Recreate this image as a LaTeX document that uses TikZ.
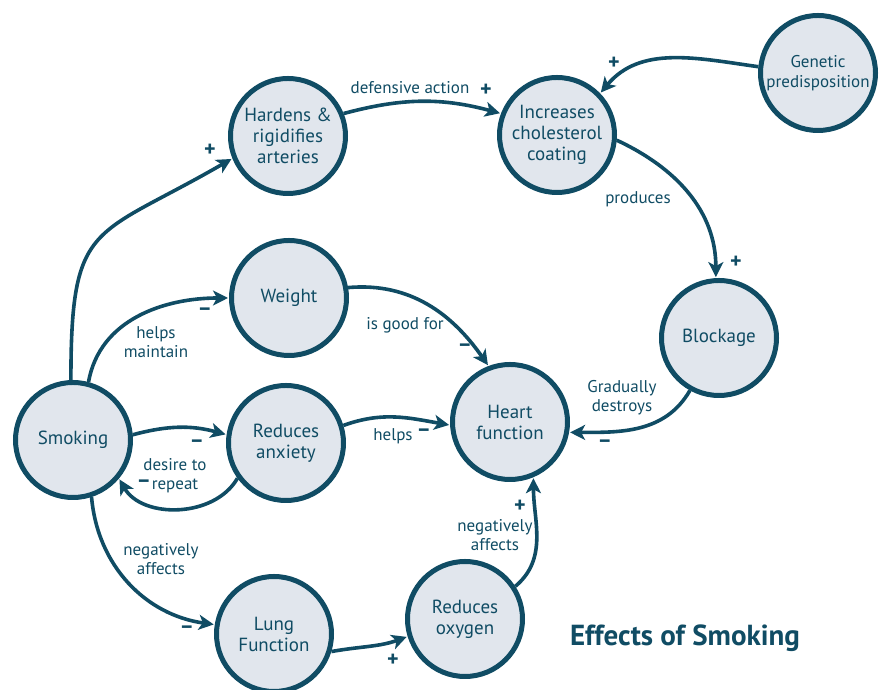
\documentclass[tikz,border=0pt]{standalone}
\usepackage{fontspec}
\setmainfont{PT Sans}
\usetikzlibrary{arrows.meta,automata,positioning}
\definecolor{ink}{HTML}{104C64}
\definecolor{disc}{HTML}{E1E6ED}

\begin{document}
\begin{tikzpicture}[x=1pt,y=1pt,->,>={Stealth[length=15pt,width=15pt,inset=4pt]},shorten >=1pt,line width=3.6pt,color=ink,font=\fontsize{19}{21}\selectfont]
\tikzstyle{every state}=[fill=disc,draw=ink,text=ink,minimum size=115pt,line width=5pt,align=center,inner sep=0pt]
\tikzstyle{lbl}=[align=center,font=\fontsize{17}{19}\selectfont]
\tikzstyle{sgn}=[font=\bfseries\fontsize{22}{22}\selectfont]
\useasboundingbox (0,0) rectangle (887,690);

% Estados
\node[state] (smoke) at (73,250) {Smoking};
\node[state] (hard) at (288,554) {Hardens \&\\rigidifies\\arteries};
\node[state] (chol) at (557,555) {Increases\\cholesterol\\coating};
\node[state,font=\fontsize{17}{20}\selectfont] (gene) at (818,617) {Genetic\\predisposition};
\node[state] (weight) at (289,392) {Weight};
\node[state] (anx) at (286,247) {Reduces\\anxiety};
\node[state] (heart) at (510,268) {Heart\\function};
\node[state] (block) at (719,352) {Blockage};
\node[state] (lung) at (274,56) {Lung\\Function};
\node[state] (oxy) at (465,71) {Reduces\\oxygen};

% Conexiones
\path
(smoke.92) edge[out=90,in=210,looseness=1.5] (hard.202)
(smoke.75) edge[out=80,in=180] (weight.180)
(smoke.5) edge[out=15,in=165] (anx.172)
(anx.216) edge[out=240,in=300] (smoke.320)
(smoke.288) edge[out=275,in=172] (lung.171)
(lung.343) edge[out=10,in=200] (oxy.197)
(oxy.33) edge[out=40,in=270] (heart.293)
(anx.17) edge[out=20,in=170] (heart.183)
(weight.10) edge[out=5,in=125] (heart.111)
(hard.22) edge[out=15,in=165] (chol.159)
(gene.174) edge[out=172,in=50] (chol.44)
(chol.355) edge[out=-25,in=90] (block.93)
(block.241) edge[out=240,in=0] (heart.350);

% Etiquetas
\node[lbl] (l1) at (156,348) {helps\\maintain};
\node[lbl] (l2) at (175,214) {desire to\\repeat};
\node[lbl] (l3) at (161,131) {negatively\\affects};
\node[lbl] (l4) at (495,155) {negatively\\affects};
\node[lbl] (l5) at (393,254) {helps};
\node[lbl] (l6) at (405,365) {is good for};
\node[lbl] (l7) at (410,602) {defensive action};
\node[lbl] (l8) at (638,491) {produces};
\node[lbl] (l9) at (622,292) {Gradually\\destroys};

% Signos
\node[sgn] (s1) at (210,540) {+};
\node[sgn] (s2) at (205,378) {–};
\node[sgn] (s3) at (197,246) {–};
\node[sgn] (s4) at (144,206) {–};
\node[sgn] (s5) at (187,60) {–};
\node[sgn] (s6) at (393,30) {+};
\node[sgn] (s7) at (520,184) {+};
\node[sgn] (s8) at (424,257) {–};
\node[sgn] (s9) at (465,342) {–};
\node[sgn] (s10) at (486,600) {+};
\node[sgn] (s11) at (614,627) {+};
\node[sgn] (s12) at (736,428) {+};
\node[sgn] (s13) at (605,246) {–};

\node[font=\bfseries\fontsize{29}{31}\selectfont] (title) at (685,52) {Effects of Smoking};
\end{tikzpicture}
\end{document}
